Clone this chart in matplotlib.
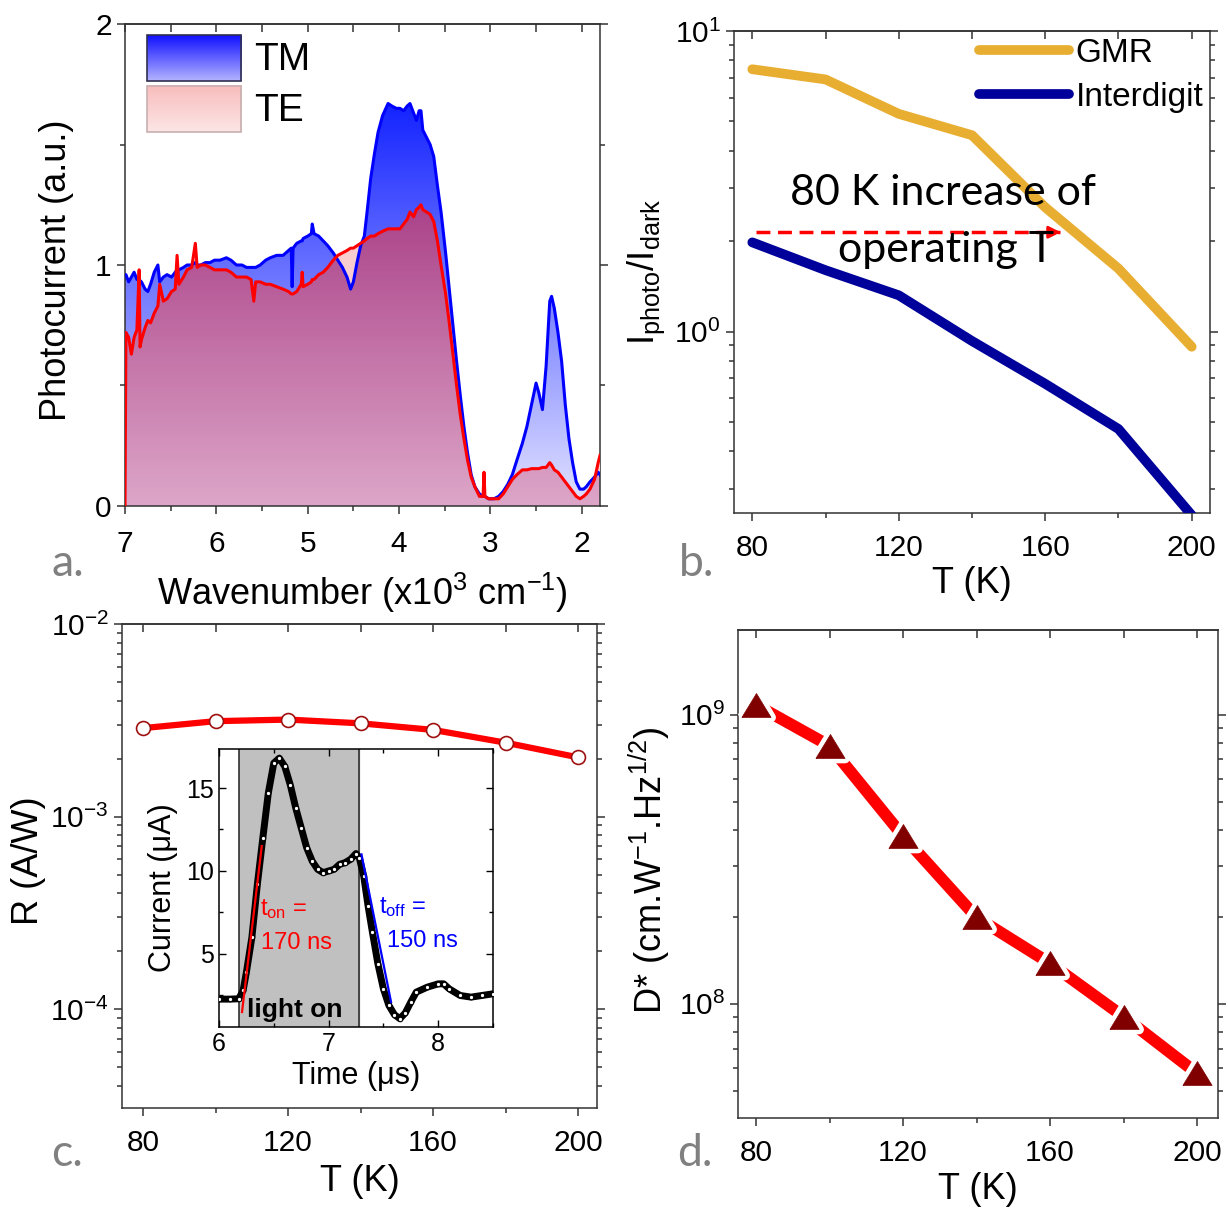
import matplotlib
matplotlib.use('Agg')
import matplotlib.pyplot as plt
import numpy as np
from matplotlib.colors import to_rgba
from matplotlib.patches import Rectangle
from matplotlib.ticker import MultipleLocator, NullFormatter, LogLocator

plt.rcParams['font.family'] = ['Liberation Sans', 'DejaVu Sans']
plt.rcParams['mathtext.default'] = 'regular'
plt.rcParams['axes.edgecolor'] = '#333333'
plt.rcParams['axes.linewidth'] = 1.1

# (a) photocurrent spectra, wavenumber in 10^3 cm^-1
wavenumber = [7.00, 6.99, 6.96, 6.93, 6.90, 6.87, 6.845, 6.835, 6.82, 6.78, 6.75, 6.72,
              6.68, 6.64, 6.62, 6.58, 6.54, 6.49, 6.45, 6.43, 6.41, 6.36, 6.32, 6.27,
              6.23, 6.21, 6.17, 6.12, 6.07, 6.02, 5.96, 5.89, 5.84, 5.78, 5.72, 5.67,
              5.62, 5.59, 5.57, 5.52, 5.46, 5.41, 5.34, 5.27, 5.21, 5.18, 5.17, 5.16,
              5.12, 5.07, 5.06, 5.05, 5.00, 4.96, 4.95, 4.93, 4.88, 4.83, 4.78, 4.72,
              4.67, 4.62, 4.57, 4.53, 4.50, 4.46, 4.42, 4.38, 4.35, 4.31, 4.27, 4.23,
              4.18, 4.12, 4.08, 4.03, 3.99, 3.95, 3.91, 3.88, 3.84, 3.81, 3.78, 3.76,
              3.74, 3.70, 3.66, 3.62, 3.58, 3.54, 3.49, 3.45, 3.41, 3.37, 3.33, 3.29,
              3.25, 3.21, 3.17, 3.12, 3.08, 3.07, 3.06, 3.02, 2.96, 2.91, 2.86, 2.81,
              2.76, 2.71, 2.65, 2.60, 2.55, 2.50, 2.47, 2.43, 2.39, 2.35, 2.33, 2.30,
              2.26, 2.22, 2.18, 2.14, 2.10, 2.06, 2.02, 1.98, 1.95, 1.91, 1.86, 1.82, 1.80]
tm_signal = [0.96, 0.96, 0.93, 0.95, 0.97, 0.94, 0.95, 0.93, 0.93, 0.90, 0.89, 0.92,
             0.97, 1.00, 0.93, 0.95, 0.96, 0.95, 0.97, 0.98, 0.98, 0.99, 1.00, 1.00,
             1.01, 1.00, 1.00, 1.01, 1.01, 1.02, 1.02, 1.03, 1.02, 1.00, 1.00, 0.99,
             0.99, 0.99, 0.99, 1.00, 1.02, 1.03, 1.04, 1.04, 1.06, 1.07, 0.91, 1.07,
             1.09, 1.10, 1.10, 1.11, 1.12, 1.13, 1.17, 1.13, 1.12, 1.10, 1.08, 1.05,
             1.02, 0.99, 0.95, 0.90, 0.93, 1.01, 1.08, 1.12, 1.22, 1.36, 1.46, 1.55,
             1.62, 1.67, 1.66, 1.65, 1.65, 1.64, 1.66, 1.67, 1.63, 1.60, 1.64, 1.64,
             1.56, 1.53, 1.50, 1.45, 1.33, 1.22, 1.05, 0.90, 0.75, 0.60, 0.46, 0.33,
             0.22, 0.13, 0.08, 0.05, 0.04, 0.04, 0.04, 0.03, 0.03, 0.04, 0.06, 0.09,
             0.13, 0.19, 0.26, 0.33, 0.42, 0.51, 0.47, 0.40, 0.58, 0.85, 0.87, 0.82,
             0.72, 0.60, 0.42, 0.28, 0.18, 0.10, 0.07, 0.07, 0.08, 0.10, 0.12, 0.14, 0.13]
te_signal = [0.00, 0.72, 0.70, 0.63, 0.70, 0.73, 0.98, 0.66, 0.69, 0.74, 0.77, 0.76,
             0.80, 0.83, 0.92, 0.85, 0.86, 0.89, 0.90, 1.04, 0.92, 0.95, 0.98, 0.99,
             1.09, 0.99, 1.00, 1.00, 0.99, 0.98, 0.98, 0.98, 0.97, 0.95, 0.95, 0.95,
             0.94, 0.85, 0.93, 0.93, 0.92, 0.92, 0.91, 0.90, 0.89, 0.88, 0.88, 0.88,
             0.89, 0.92, 0.97, 0.91, 0.92, 0.93, 0.94, 0.94, 0.96, 0.97, 0.99, 1.02,
             1.04, 1.05, 1.06, 1.07, 1.07, 1.08, 1.09, 1.10, 1.11, 1.12, 1.12, 1.13,
             1.14, 1.15, 1.15, 1.15, 1.15, 1.17, 1.19, 1.22, 1.20, 1.23, 1.24, 1.25,
             1.23, 1.22, 1.21, 1.18, 1.10, 1.00, 0.88, 0.76, 0.63, 0.50, 0.38, 0.28,
             0.19, 0.12, 0.08, 0.04, 0.04, 0.14, 0.04, 0.03, 0.03, 0.03, 0.05, 0.08,
             0.11, 0.13, 0.15, 0.15, 0.155, 0.155, 0.155, 0.16, 0.16, 0.18, 0.17, 0.15,
             0.14, 0.12, 0.10, 0.08, 0.06, 0.04, 0.03, 0.04, 0.05, 0.07, 0.11, 0.18, 0.21]

# (b) photo/dark current ratio
temp_k = [80, 100, 120, 140, 160, 180, 200]
gmr_ratio = [7.46, 6.9, 5.3, 4.5, 2.59, 1.62, 0.89]
interdigit_ratio = [1.98, 1.60, 1.32, 0.93, 0.67, 0.474, 0.245]
arrow_t = [81, 164]
arrow_ratio = 2.14

# (c) responsivity and inset transient
responsivity = [2.88e-3, 3.13e-3, 3.19e-3, 3.05e-3, 2.82e-3, 2.42e-3, 2.03e-3]
time_us = [6.0, 6.1, 6.18, 6.22, 6.25, 6.3, 6.35, 6.4, 6.45, 6.5, 6.55, 6.6, 6.65,
           6.7, 6.75, 6.8, 6.85, 6.9, 6.95, 7.0, 7.05, 7.1, 7.15, 7.2, 7.25, 7.28,
           7.32, 7.36, 7.4, 7.45, 7.5, 7.55, 7.6, 7.65, 7.7, 7.75, 7.8, 7.9, 8.0,
           8.05, 8.1, 8.2, 8.3, 8.4, 8.5]
current_ua = [2.28, 2.28, 2.3, 2.8, 3.9, 6.0, 9.2, 12.0, 14.7, 16.5, 16.8, 16.3, 15.2,
              13.8, 12.6, 11.4, 10.6, 10.1, 9.9, 10.0, 10.1, 10.4, 10.5, 10.7, 11.05, 10.8,
              9.7, 7.9, 6.3, 4.4, 2.9, 1.9, 1.35, 1.1, 1.45, 2.1, 2.7, 3.0, 3.2,
              3.2, 2.9, 2.5, 2.4, 2.5, 2.6]
rise_fit_t = [6.21, 6.39]
rise_fit_i = [1.5, 11.5]
fall_fit_t = [7.30, 7.57]
fall_fit_i = [11.0, 2.1]
light_on_window = [6.18, 7.28]

# (d) detectivity
detectivity = [1.08e9, 7.8e8, 3.8e8, 1.99e8, 1.38e8, 9.03e7, 5.75e7]

W, H = 1228, 1209
fig = plt.figure(figsize=(W / 100, H / 100), dpi=100)


def box(x0, y0, x1, y1):
    return [x0 / W, 1 - y1 / H, (x1 - x0) / W, (y1 - y0) / H]


def style_axes(ax, xmajor, xminor, log_y=False, xpad=7):
    ax.xaxis.set_major_locator(MultipleLocator(xmajor))
    ax.xaxis.set_minor_locator(MultipleLocator(xminor))
    ax.tick_params(axis='x', which='both', bottom=True, top=False, direction='out',
                   labelsize=21.5, width=1.1, colors='#333333', labelcolor='black', pad=xpad)
    ax.tick_params(axis='y', which='both', left=True, right=True, direction='out',
                   labelsize=21.5, width=1.1, colors='#333333', labelcolor='black')
    ax.tick_params(which='major', length=6)
    ax.tick_params(which='minor', length=3.5)
    top = ax.secondary_xaxis('top')
    top.xaxis.set_major_locator(MultipleLocator(xmajor))
    top.xaxis.set_minor_locator(MultipleLocator(xminor))
    top.tick_params(which='both', direction='in', labeltop=False, width=1.1, colors='#333333')
    top.tick_params(which='major', length=6)
    top.tick_params(which='minor', length=6)
    if log_y:
        ax.yaxis.set_minor_locator(LogLocator(base=10, subs=np.arange(2, 10)))
        ax.yaxis.set_minor_formatter(NullFormatter())


def ramp(c_top, c_bottom, n=256):
    t = np.linspace(0, 1, n)[:, None, None]
    return np.array(to_rgba(c_bottom))[None, None, :] * (1 - t) + np.array(to_rgba(c_top))[None, None, :] * t


def gradient_fill(ax, x, y, c_top, c_bottom, y_top, zorder):
    fill = ax.fill_between(x, y, 0, facecolor='none', edgecolor='none')
    im = ax.imshow(ramp(c_top, c_bottom), extent=[min(x), max(x), 0, y_top], origin='lower',
                   aspect='auto', interpolation='bilinear', zorder=zorder)
    im.set_clip_path(fill.get_paths()[0], transform=ax.transData)


# ---- (a) ----
ax_a = fig.add_axes(box(125, 24, 600, 506))
wn = np.array(wavenumber)
tm = np.array(tm_signal)
te = np.array(te_signal)
gradient_fill(ax_a, wn, tm, '#1020ff', '#e2e2ff', 1.7, 1)
gradient_fill(ax_a, wn, te, '#ab4289', '#dda6c8', 1.25, 2)
ax_a.fill_between(wn, tm, te, where=te > tm, interpolate=True, color='#f9cdd0', lw=0, zorder=3)
ax_a.plot(wn, tm, color='#0000ff', lw=2.2, zorder=4)
ax_a.plot(wn, te, color='#ff0000', lw=2.2, zorder=5)

for (y0, y1), (ct, cb), ec, lab in [((0.882, 0.977), ('#1010ff', '#b4b4ff'), '#303050', 'TM'),
                                    ((0.776, 0.872), ('#f8bcbc', '#fde6e6'), '#c8b0b0', 'TE')]:
    ax_a.imshow(ramp(ct, cb), extent=[0.046, 0.244, y0, y1], transform=ax_a.transAxes,
                origin='lower', aspect='auto', zorder=6)
    ax_a.add_patch(Rectangle((0.046, y0), 0.198, y1 - y0, transform=ax_a.transAxes,
                             fill=False, ec=ec, lw=1.2, zorder=7))
    ax_a.text(0.272, (y0 + y1) / 2 - 0.004, lab, transform=ax_a.transAxes, fontsize=28,
              va='center', ha='left', zorder=7)

ax_a.set_xlim(7, 1.8)
ax_a.set_ylim(0, 2)
style_axes(ax_a, 1, 0.5, xpad=11)
ax_a.yaxis.set_major_locator(MultipleLocator(1))
ax_a.yaxis.set_minor_locator(MultipleLocator(0.5))
ax_a.set_xlabel(r'Wavenumber (x10$^3$ cm$^{-1}$)', fontsize=26)
ax_a.set_ylabel('Photocurrent (a.u.)', fontsize=26)
ax_a.xaxis.set_label_coords(0.5, -0.135)
ax_a.yaxis.set_label_coords(-0.108, 0.49)

# ---- (b) ----
ax_b = fig.add_axes(box(734, 31, 1210, 513))
ax_b.plot(temp_k, gmr_ratio, color='#e8ae32', lw=7, solid_capstyle='round', label='GMR', zorder=3)
ax_b.plot(temp_k, interdigit_ratio, color='#00009a', lw=7, solid_capstyle='round',
          label='Interdigit', zorder=3)
ax_b.plot(arrow_t, [arrow_ratio, arrow_ratio], color='#ff0000', lw=2.5, ls=(0, (4, 2.2)), zorder=4)
ax_b.annotate('', xy=(arrow_t[1] + 1, arrow_ratio), xytext=(arrow_t[1] - 2, arrow_ratio),
              arrowprops=dict(arrowstyle='-|>', color='#ff0000', lw=2, mutation_scale=18), zorder=4)
ax_b.text(132, 2.89, '80 K increase of', fontsize=31, family='Lato', ha='center', va='center', zorder=5)
ax_b.text(133, 1.87, 'operating T', fontsize=31, family='Lato', ha='center', va='center', zorder=5)
ax_b.set_yscale('log')
ax_b.set_xlim(75, 205)
ax_b.set_ylim(0.249, 10)
style_axes(ax_b, 40, 20, log_y=True, xpad=9)
ax_b.legend(loc='upper right', frameon=False, fontsize=24, handlelength=2.7, handletextpad=0.2,
            labelspacing=0.4, borderaxespad=0.0, borderpad=0.2)
ax_b.set_xlabel('T (K)', fontsize=26)
ax_b.set_ylabel(r'I$_{photo}$/I$_{dark}$', fontsize=26)
ax_b.xaxis.set_label_coords(0.5, -0.11)
ax_b.yaxis.set_label_coords(-0.14, 0.5)

# ---- (c) ----
ax_c = fig.add_axes(box(122, 624, 597, 1108))
ax_c.plot(temp_k, responsivity, color='#ff0000', lw=4.5, zorder=3)
ax_c.plot(temp_k, responsivity, ls='none', marker='o', ms=10, mfc='white', mec='#a01010',
          mew=1.2, zorder=4)
ax_c.set_yscale('log')
ax_c.set_xlim(74.2, 205.2)
ax_c.set_ylim(3.07e-5, 1e-2)
style_axes(ax_c, 40, 20, log_y=True, xpad=9)
ax_c.set_xlabel('T (K)', fontsize=26)
ax_c.set_ylabel('R (A/W)', fontsize=26)
ax_c.xaxis.set_label_coords(0.5, -0.115)
ax_c.yaxis.set_label_coords(-0.16, 0.51)

ax_in = fig.add_axes(box(219, 749, 493, 1027))
ax_in.axvspan(light_on_window[0], light_on_window[1], color='#c0c0c0', zorder=0)
for t in light_on_window:
    ax_in.axvline(t, color='#222222', lw=1.1, zorder=1)
ax_in.plot(time_us, current_ua, color='black', lw=5, zorder=2)
ax_in.plot(time_us, current_ua, ls='none', marker='o', ms=3.2, mfc='white', mec='black',
           mew=0.8, zorder=3)
ax_in.plot(rise_fit_t, rise_fit_i, color='#ff0000', lw=1.6, zorder=4)
ax_in.plot(fall_fit_t, fall_fit_i, color='#0000ff', lw=1.6, zorder=4)
ax_in.text(6.37, 7.7, r't$_{on}$ =', color='#ff0000', fontsize=17, va='center', zorder=5)
ax_in.text(6.38, 5.65, '170 ns', color='#ff0000', fontsize=17, va='center', zorder=5)
ax_in.text(7.46, 7.84, r't$_{off}$ =', color='#0000ff', fontsize=17, va='center', zorder=5)
ax_in.text(7.53, 5.77, '150 ns', color='#0000ff', fontsize=17, va='center', zorder=5)
ax_in.text(6.26, 1.63, 'light on', fontsize=19, fontweight='bold', va='center', zorder=5)
ax_in.set_xlim(6, 8.5)
ax_in.set_ylim(0.6, 17.35)
ax_in.xaxis.set_major_locator(MultipleLocator(1))
ax_in.xaxis.set_minor_locator(MultipleLocator(0.5))
ax_in.yaxis.set_major_locator(MultipleLocator(5))
ax_in.yaxis.set_minor_locator(MultipleLocator(2.5))
ax_in.tick_params(which='both', direction='in', top=True, right=True, labelsize=18, width=1)
ax_in.tick_params(which='major', length=5)
ax_in.tick_params(which='minor', length=3)
for s in ax_in.spines.values():
    s.set_color('black')
ax_in.set_xlabel('Time (μs)', fontsize=22, labelpad=4)
ax_in.set_ylabel('Current (μA)', fontsize=22, labelpad=6)

# ---- (d) ----
ax_d = fig.add_axes(box(738, 630, 1218, 1118))
ax_d.plot(temp_k, detectivity, color='#ff0000', lw=8.5, solid_capstyle='round', zorder=3)
tri = [(-1, -0.82), (1, -0.82), (0, 0.82), (-1, -0.82)]
ax_d.plot(temp_k, detectivity, ls='none', marker=tri, ms=21, mfc='#800000', mec='white',
          mew=7, zorder=4)
ax_d.plot(temp_k, detectivity, ls='none', marker=tri, ms=21, mfc='#800000', mec='#800000',
          mew=0.5, zorder=5)
ax_d.set_yscale('log')
ax_d.set_xlim(75.1, 205.7)
ax_d.set_ylim(4.03e7, 1.96e9)
style_axes(ax_d, 40, 20, log_y=True, xpad=9)
ax_d.set_xlabel('T (K)', fontsize=26)
ax_d.set_ylabel(r'D* (cm.W$^{-1}$.Hz$^{1/2}$)', fontsize=26)
ax_d.xaxis.set_label_coords(0.5, -0.11)
ax_d.yaxis.set_label_coords(-0.138, 0.508)

for lab, x, y in [('a.', 68, 563), ('b.', 697, 563), ('c.', 67, 1153), ('d.', 695, 1153)]:
    fig.text(x / W, 1 - y / H, lab, fontsize=32, family='Lato', color='#808080',
             ha='center', va='center')

fig.savefig('out.png', dpi=100)
